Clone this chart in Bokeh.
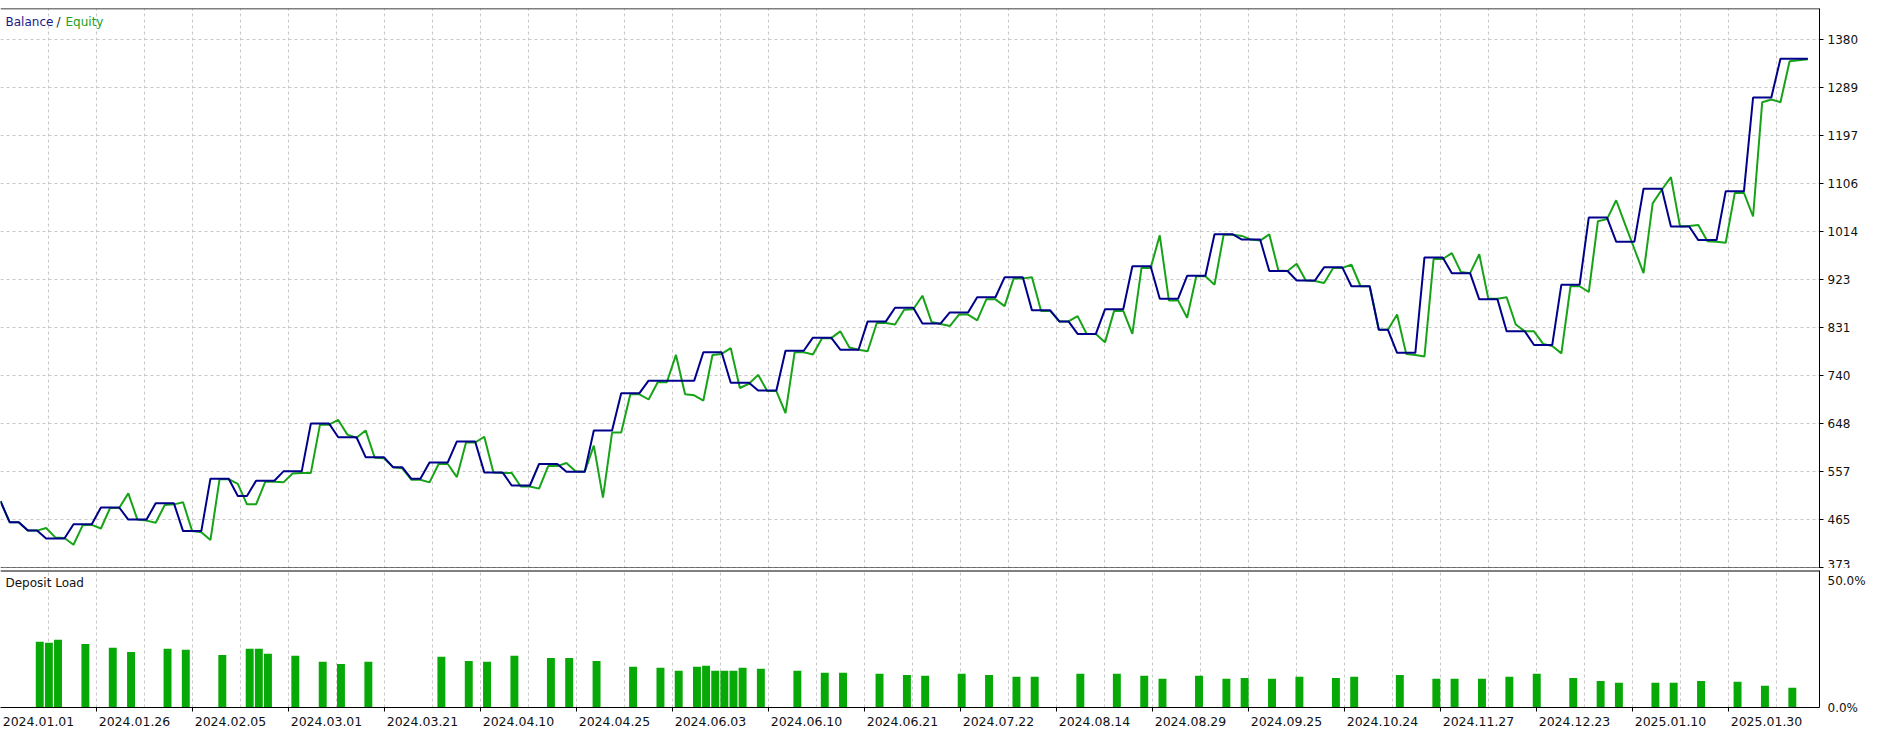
from bokeh.plotting import figure
from bokeh.layouts import column
from bokeh.models import (Range1d, FixedTicker, LinearAxis, Span, Label, Grid,
                          CustomJSTickFormatter, ColumnDataSource)
from bokeh.transform import dodge
from bokeh.embed import file_html
from bokeh.resources import INLINE

# ---------------- data ----------------
balance = [
    500, 460, 460, 444, 444, 429, 429, 429, 456, 456,
    456, 488, 488, 488, 465, 465, 465, 496, 496, 496,
    443, 443, 443, 543, 543, 543, 510, 510, 539, 539,
    539, 557, 557, 557, 648, 648, 648, 622, 622, 622,
    584, 584, 584, 565, 565, 543, 543, 574, 574, 574,
    614, 614, 614, 555, 555, 555, 530, 530, 530, 571,
    571, 571, 556, 556, 556, 635, 635, 635, 706, 706,
    706, 730, 730, 730, 730, 730, 730, 784, 784, 784,
    726, 726, 726, 711, 711, 711, 787, 787, 787, 812,
    812, 812, 789, 789, 789, 843, 843, 843, 869, 869,
    869, 839, 839, 839, 860, 860, 860, 889, 889, 889,
    927, 927, 927, 864, 864, 864, 843, 843, 819, 819,
    819, 866, 866, 866, 948, 948, 948, 886, 886, 886,
    930, 930, 930, 1009, 1009, 1009, 999, 999, 999, 939,
    939, 939, 921, 921, 921, 946, 946, 946, 910, 910,
    910, 827, 827, 783, 783, 783, 965, 965, 965, 935,
    935, 935, 885, 885, 885, 824, 824, 824, 798, 798,
    798, 913, 913, 913, 1041, 1041, 1041, 995, 995, 995,
    1096, 1096, 1096, 1024, 1024, 1024, 998, 998, 998, 1091,
    1091, 1091, 1270, 1270, 1270, 1344, 1344, 1344, 1344,
]

equity = [
    500, 460, 460, 444, 444, 449, 431, 430, 417, 454,
    455, 448, 487, 487, 515, 465, 463, 459, 493, 494,
    498, 443, 441, 426, 542, 542, 533, 494, 494, 537,
    537, 536, 553, 554, 554, 646, 646, 655, 627, 621,
    635, 583, 582, 565, 563, 541, 541, 536, 571, 571,
    546, 612, 612, 623, 555, 554, 554, 528, 528, 524,
    567, 567, 573, 557, 556, 606, 507, 631, 631, 704,
    704, 694, 727, 727, 779, 704, 702, 692, 779, 781,
    792, 716, 724, 741, 710, 710, 668, 784, 784, 780,
    811, 811, 824, 793, 789, 786, 840, 840, 837, 865,
    866, 892, 842, 838, 834, 856, 856, 845, 885, 885,
    872, 925, 925, 927, 863, 863, 843, 843, 853, 819,
    819, 803, 863, 863, 819, 945, 945, 1007, 883, 883,
    850, 929, 929, 913, 1008, 1008, 1006, 999, 997, 1009,
    940, 939, 953, 921, 920, 916, 945, 945, 951, 910,
    910, 827, 827, 856, 781, 779, 776, 962, 962, 973,
    937, 935, 971, 886, 886, 889, 837, 824, 824, 800,
    796, 782, 910, 910, 899, 1034, 1038, 1074, 1027, 981,
    935, 1068, 1094, 1118, 1024, 1025, 1027, 996, 995, 993,
    1088, 1088, 1043, 1261, 1266, 1261, 1339, 1341, 1343,
]

deal = list(range(len(balance)))

load_deal = [4, 5, 6, 9, 12, 14, 18, 20, 24, 27, 28, 29, 32, 35, 37, 40, 48, 51,
             53, 56, 60, 62, 65, 69, 72, 74, 76, 77, 78, 79, 80, 81, 83, 87, 90,
             92, 96, 99, 101, 105, 108, 111, 113, 118, 122, 125, 127, 131, 134,
             136, 139, 142, 146, 148, 153, 157, 159, 162, 165, 168, 172, 175,
             177, 181, 183, 186, 190, 193, 196]
load_pct = [24.0, 23.6, 24.7, 23.2, 21.8, 20.3, 21.4, 21.1, 19.2, 21.4, 21.4,
            19.6, 18.9, 16.7, 15.9, 16.7, 18.5, 17.0, 16.7, 18.9, 18.1, 18.1,
            17.0, 14.9, 14.5, 13.4, 14.9, 15.2, 13.4, 13.4, 13.4, 14.5, 14.1,
            13.4, 12.7, 12.7, 12.3, 11.9, 11.6, 12.3, 11.9, 11.2, 11.2, 12.3,
            12.3, 11.6, 10.5, 11.6, 10.5, 10.8, 10.5, 11.2, 10.8, 11.2, 11.9,
            10.5, 10.5, 10.5, 11.2, 12.3, 10.8, 9.7, 9.0, 9.0, 9.0, 9.7, 9.4,
            7.9, 7.2]

y_tick_values = [373, 465, 557, 648, 740, 831, 923, 1014, 1106, 1197, 1289, 1380]
date_labels = ["2024.01.01", "2024.01.26", "2024.02.05", "2024.03.01",
               "2024.03.21", "2024.04.10", "2024.04.25", "2024.06.03",
               "2024.06.10", "2024.06.21", "2024.07.22", "2024.08.14",
               "2024.08.29", "2024.09.25", "2024.10.24", "2024.11.27",
               "2024.12.23", "2025.01.10", "2025.01.30"]
load_tick_labels = {0: "0.0%", 46: "50.0%"}

# ---------------- layout / style ----------------
PX = 9.128                  # screen px per deal step
FRAME_L, FRAME_R = 0, 1819  # page x of frame edges
Y0, Y1 = 371.7, 1439.7
FONT = "DejaVu Sans"
NAVY = "#00008B"
GREEN = "#17A317"
BAR = "#07A907"
GRID = "#c8c8c8"


def px2deal(px):
    return px / PX


xr = Range1d(px2deal(FRAME_L), px2deal(FRAME_R))
grid_x = [px2deal(48 * k) for k in range(1, 38)]

# ---------------- top panel ----------------
p1 = figure(width=1879, height=568, x_range=xr, y_range=Range1d(Y0, Y1),
            x_axis_type=None, y_axis_type=None, title=None,
            output_backend="svg", toolbar_location=None,
            min_border_left=0, min_border_right=60, min_border_top=8,
            min_border_bottom=0)
p1.outline_line_color = None
p1.add_layout(Grid(dimension=0, ticker=FixedTicker(ticks=grid_x),
                   grid_line_color=GRID, grid_line_dash="3 3"))
p1.add_layout(Grid(dimension=1, ticker=FixedTicker(ticks=y_tick_values),
                   grid_line_color=GRID, grid_line_dash="3 3"))

yax = LinearAxis(ticker=FixedTicker(ticks=y_tick_values),
                 major_label_overrides={v: str(v) for v in y_tick_values},
                 major_tick_out=4, major_tick_in=0, minor_tick_out=0,
                 minor_tick_in=0, major_label_standoff=4,
                 axis_line_color="black", major_tick_line_color="black",
                 major_label_text_font=FONT, major_label_text_font_size="12px",
                 major_label_text_color="#111111")
p1.add_layout(yax, "right")

p1.add_layout(Span(location=Y1, dimension="width", line_color="black", line_width=1.5))
p1.add_layout(Span(location=Y0, dimension="width", line_color="black", line_width=2))

src = ColumnDataSource(dict(deal=deal, balance=balance, equity=equity))
p1.line("deal", "equity", source=src, line_color=GREEN, line_width=2)
p1.line("deal", "balance", source=src, line_color=NAVY, line_width=2)

ty = Y1 - 13 * (Y1 - Y0) / 560
p1.add_layout(Label(x=px2deal(5), y=ty, text="Balance", text_color="#1a1a8a",
                    text_font=FONT, text_font_size="12px", text_baseline="middle"))
p1.add_layout(Label(x=px2deal(56), y=ty, text="/", text_color="#222222",
                    text_font=FONT, text_font_size="12px", text_baseline="middle"))
p1.add_layout(Label(x=px2deal(65), y=ty, text="Equity", text_color="#22a022",
                    text_font=FONT, text_font_size="12px", text_baseline="middle"))

# ---------------- bottom panel ----------------
p2 = figure(width=1879, height=162, x_range=xr, y_range=Range1d(0, 50),
            x_axis_type=None, y_axis_type=None, title=None,
            output_backend="svg", toolbar_location=None,
            min_border_left=0, min_border_right=60, min_border_top=2,
            min_border_bottom=23)
p2.outline_line_color = None
p2.add_layout(Grid(dimension=0, ticker=FixedTicker(ticks=grid_x),
                   grid_line_color=GRID, grid_line_dash="3 3"))

label_centers = [px2deal(96 * k + 38) for k in range(len(date_labels))]
tick_marks = [px2deal(96 * k) for k in range(1, len(date_labels))]
xax = LinearAxis(ticker=FixedTicker(ticks=label_centers, minor_ticks=tick_marks),
                 formatter=CustomJSTickFormatter(args=dict(labels=date_labels),
                                                 code="return labels[index];"),
                 major_tick_out=0, major_tick_in=0, minor_tick_out=4,
                 minor_tick_in=0, major_label_standoff=5,
                 axis_line_color="black", minor_tick_line_color="black",
                 major_label_text_font=FONT, major_label_text_font_size="12.5px",
                 major_label_text_color="#111111")
p2.add_layout(xax, "below")

rax = LinearAxis(ticker=FixedTicker(ticks=list(load_tick_labels.keys())),
                 major_label_overrides=load_tick_labels,
                 major_tick_out=0, major_tick_in=0, minor_tick_out=0,
                 minor_tick_in=0, major_label_standoff=8,
                 axis_line_color="black",
                 major_label_text_font=FONT, major_label_text_font_size="12px",
                 major_label_text_color="#111111")
p2.add_layout(rax, "right")
p2.add_layout(Span(location=50, dimension="width", line_color="black", line_width=2))

bsrc = ColumnDataSource(dict(deal=load_deal, pct=load_pct))
p2.vbar(x=dodge("deal", 0.3), top="pct", width=0.87, source=bsrc,
        fill_color=BAR, line_color=None)

p2.add_layout(Label(x=px2deal(5), y=50 - 12 * 50 / 137, text="Deposit Load",
                    text_color="#111111", text_font=FONT, text_font_size="12px",
                    text_baseline="middle"))

layout = column(p1, p2, spacing=0)
open("out.html", "w").write(file_html(layout, INLINE))
